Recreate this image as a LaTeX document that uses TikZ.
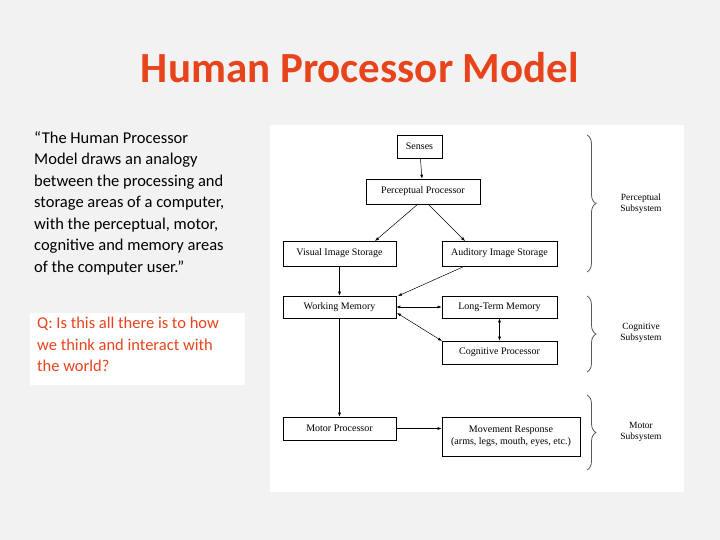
\documentclass[tikz,border=0pt]{standalone}
\usepackage{fontspec}
\setmainfont{Carlito}
\newfontfamily\serifd{Liberation Serif}
\usetikzlibrary{arrows.meta,decorations.pathreplacing}
\definecolor{ttl}{HTML}{E8441C}
\begin{document}
\begin{tikzpicture}[x=1pt,y=-1pt,
  bx/.style={draw,line width=0.6pt,minimum height=0,inner sep=0,font=\serifd\fontsize{10}{11.5}\selectfont,align=center},
  ar/.style={-{Latex[length=4pt,width=3pt]},line width=0.5pt},
  dar/.style={{Latex[length=4pt,width=3pt]}-{Latex[length=4pt,width=3pt]},line width=0.5pt},
  brc/.style={decorate,decoration={brace,amplitude=9pt},draw=gray!70!black,line width=0.8pt},
  lbl/.style={font=\serifd\fontsize{9.5}{11}\selectfont,align=center}]
\useasboundingbox (0,0) rectangle (720,540);
\fill[gray!10] (0,0) rectangle (720,540);
\node[font=\bfseries\fontsize{43}{48}\selectfont,text=ttl] (title) at (360,68) {Human Processor Model};
\node[anchor=north west,align=left,font=\fontsize{16.5}{21.5}\selectfont,inner sep=0] (quote) at (34,131)
 {“The Human Processor\\Model draws an analogy\\between the processing and\\storage areas of a computer,\\with the perceptual, motor,\\cognitive and memory areas\\of the computer user.”};
\node[fill=white,anchor=north west,minimum width=215,minimum height=72,inner sep=0] (qbox) at (30,313) {};
\node[anchor=north west,align=left,text=ttl,font=\fontsize{16.5}{21.5}\selectfont,inner sep=0] (q) at (37,317)
 {Q: Is this all there is to how\\we think and interact with\\the world?};
\fill[white] (270,125) rectangle (684,492);
\node[bx,minimum width=45,minimum height=23] (sen) at (419.5,146.5) {Senses};
\node[bx,minimum width=114,minimum height=25] (pp) at (423,191.5) {Perceptual Processor};
\node[bx,minimum width=113,minimum height=25] (vis) at (339.5,253.5) {Visual Image Storage};
\node[bx,minimum width=115,minimum height=25] (aud) at (499.5,253.5) {Auditory Image Storage};
\node[bx,minimum width=113,minimum height=22] (wm) at (339.5,307) {Working Memory};
\node[bx,minimum width=115,minimum height=22] (ltm) at (499.5,307) {Long-Term Memory};
\node[bx,minimum width=115,minimum height=23] (cp) at (499.5,352.5) {Cognitive Processor};
\node[bx,minimum width=113,minimum height=23] (mp) at (339.5,428.5) {Motor Processor};
\node[bx,minimum width=138,minimum height=39] (mr) at (511,436.5) {Movement Response\\(arms, legs, mouth, eyes, etc.)};
\coordinate (ppl) at (418,204); \coordinate (ppr) at (428,204);
\draw[ar] (sen) -- (pp);
\draw[ar] (ppl) -- (375,241);
\draw[ar] (ppr) -- (465,241);
\draw[ar] (vis) -- (wm);
\draw[ar] (465,266) -- (398,296);
\draw[dar] (wm.east) -- (ltm.west);
\draw[dar] (397,313) -- (442,341);
\draw[dar] (ltm) -- (cp);
\draw[ar] (wm) -- (mp);
\draw[ar] (mp.east) -- (mr.west |- mp.east);
\draw[brc] (587,135) -- (587,272);
\draw[brc] (587,296) -- (587,372);
\draw[brc] (587,395) -- (587,470);
\node[lbl] (l1) at (641,204) {Perceptual\\Subsystem};
\node[lbl] (l2) at (641,333) {Cognitive\\Subsystem};
\node[lbl] (l3) at (641,432) {Motor\\Subsystem};
\end{tikzpicture}
\end{document}
